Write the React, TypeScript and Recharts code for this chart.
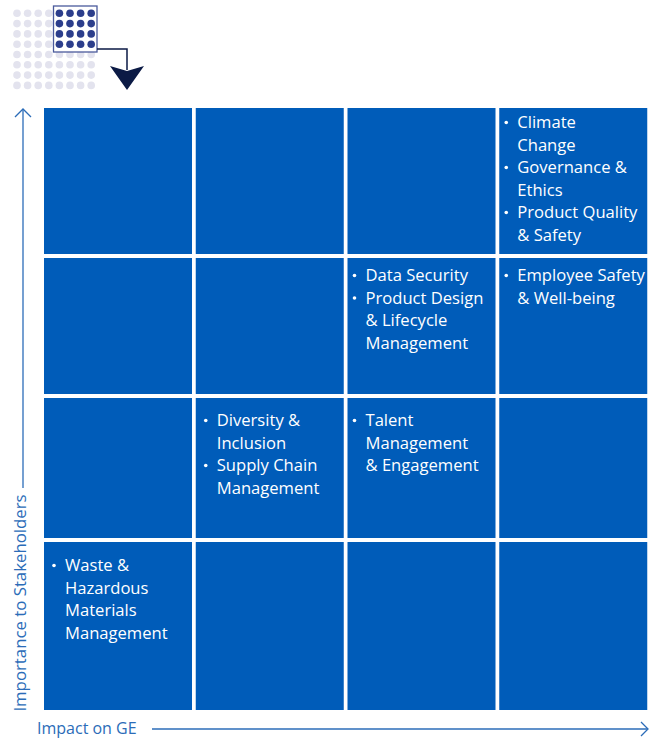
import React from 'react';
import { BarChart, Bar, XAxis, YAxis } from 'recharts';

// impact on GE (columns, left -> right)
const impactLevels = ['Low', 'Moderate', 'High', 'Very high'];
// importance to stakeholders (rows, bottom -> top) and their band sizes
const importanceLevels = ['Low', 'Moderate', 'High', 'Very high'];
const importanceBands = [172, 144, 140, 150];

// material topics: lines as wrapped in the chart
const topicLines = [
  ['Climate', 'Change'],
  ['Governance &', 'Ethics'],
  ['Product Quality', '& Safety'],
  ['Data Security'],
  ['Product Design', '& Lifecycle', 'Management'],
  ['Employee Safety', '& Well-being'],
  ['Diversity &', 'Inclusion'],
  ['Supply Chain', 'Management'],
  ['Talent', 'Management', '& Engagement'],
  ['Waste &', 'Hazardous', 'Materials', 'Management'],
];
const topicImpact = [3, 3, 3, 2, 2, 3, 1, 1, 2, 0];
const topicImportance = [3, 3, 3, 2, 2, 2, 1, 1, 1, 0];

const CELL_BLUE = '#005CB9';
const AXIS_BLUE = '#2B6CB8';
const FONT = '"Open Sans", sans-serif';
const LINE_H = 22.5;
const ROW_TEXT_TOP = [29, 28, 23, 20]; // bottom -> top
const COL_TEXT_LEFT = [21, 21, 18, 18];

const chartData = impactLevels.map((impact) => {
  const row: Record<string, string | number> = { impact };
  importanceLevels.forEach((_, i) => {
    row[`band${i}`] = importanceBands[i];
  });
  return row;
});

const makeCell = (rowIdx: number) => (props: any) => {
  const { x, y, width, height, index } = props;
  const rx = x + 2;
  const ry = y + 2;
  const lines: { text: string; bullet: boolean }[] = [];
  topicLines.forEach((tl, t) => {
    if (topicImpact[t] === index && topicImportance[t] === rowIdx) {
      tl.forEach((s, k) => lines.push({ text: s, bullet: k === 0 }));
    }
  });
  const tx = rx + COL_TEXT_LEFT[index];
  const ty = ry + ROW_TEXT_TOP[rowIdx];
  return (
    <g>
      <rect x={rx} y={ry} width={width - 4} height={height - 4} fill={CELL_BLUE} />
      {lines.map((l, k) => (
        <g key={k}>
          {l.bullet && <circle cx={tx - 11} cy={ty + k * LINE_H - 5.5} r={1.8} fill="#fff" />}
          <text x={tx} y={ty + k * LINE_H} fill="#fff" fontSize={16.6} fontFamily={FONT}>
            {l.text}
          </text>
        </g>
      ))}
    </g>
  );
};

const Icon = () => {
  const xs = [17, 27.6, 38.2, 48.8, 59.4, 70, 80.6, 91.2];
  const ys = [13.3, 23.6, 33.9, 44.2, 54.5, 64.8, 75.1, 85.4];
  return (
    <g>
      <defs>
        <clipPath id="dotclip">
          <rect x={0} y={0} width={110} height={91} />
        </clipPath>
      </defs>
      <g clipPath="url(#dotclip)">
        {ys.map((cy, j) =>
          xs.map((cx, i) => <circle key={`${i}-${j}`} cx={cx} cy={cy} r={3.8} fill="#E3E3EE" />)
        )}
      </g>
      <rect x={53.5} y={6} width={43.5} height={46} fill="#fff" stroke="#4A5A9C" strokeWidth={1.3} />
      {ys.slice(0, 4).map((cy, j) =>
        xs.slice(4).map((cx, i) => <circle key={`d${i}-${j}`} cx={cx} cy={cy} r={3.8} fill="#2C3E8C" />)
      )}
      <polyline points="97,49 127,49 127,70" fill="none" stroke="#0B1A45" strokeWidth={1.5} />
      <polygon points="110,66 127,71 144,66 127,90" fill="#0B1A45" />
    </g>
  );
};

export default function App() {
  return (
    <div style={{ position: 'absolute', left: 0, top: 0, width: 652, height: 741, background: '#fff' }}>
      <BarChart
        width={652}
        height={741}
        data={chartData}
        barCategoryGap={0}
        margin={{ top: 106, right: 3, bottom: 29, left: 42 }}
      >
        <XAxis dataKey="impact" hide />
        <YAxis type="number" domain={[0, 606]} hide />
        {importanceLevels.map((lvl, i) => (
          <Bar
            key={lvl}
            dataKey={`band${i}`}
            stackId="grid"
            isAnimationActive={false}
            shape={makeCell(i)}
          />
        ))}
      </BarChart>
      <svg width={652} height={741} style={{ position: 'absolute', left: 0, top: 0, pointerEvents: 'none' }}>
        <Icon />
        {/* y axis arrow + label */}
        <line x1={23} y1={109} x2={23} y2={488} stroke={AXIS_BLUE} strokeWidth={1.3} />
        <polyline points="15,117 23,109 31,117" fill="none" stroke={AXIS_BLUE} strokeWidth={1.3} />
        <text
          transform="translate(26,603) rotate(-90)"
          textAnchor="middle"
          fill={AXIS_BLUE}
          fontSize={16.8}
          fontFamily={FONT}
        >
          Importance to Stakeholders
        </text>
        {/* x axis arrow + label */}
        <text x={37} y={734} fill={AXIS_BLUE} fontSize={16} fontFamily={FONT}>
          Impact on GE
        </text>
        <line x1={152} y1={729} x2={647} y2={729} stroke={AXIS_BLUE} strokeWidth={1.3} />
        <polyline points="641,722 648,729 641,736" fill="none" stroke={AXIS_BLUE} strokeWidth={1.3} />
      </svg>
    </div>
  );
}
